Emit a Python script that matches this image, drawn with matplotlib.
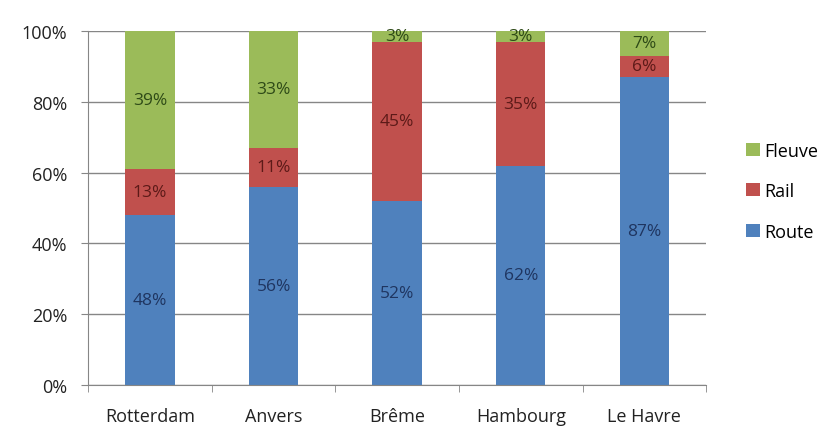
import matplotlib
matplotlib.use("Agg")
import matplotlib.pyplot as plt
import numpy as np
from matplotlib.ticker import PercentFormatter

categories = ["Rotterdam", "Anvers", "Brême", "Hambourg", "Le Havre"]
route = [48, 56, 52, 62, 87]
rail = [13, 11, 45, 35, 6]
fleuve = [39, 33, 3, 3, 7]
series_names = ["Route", "Rail", "Fleuve"]
colors = ["#4F81BD", "#C0504D", "#9BBB59"]
text_colors = ["#1F3560", "#5C1A18", "#2E4A17"]

plt.rcParams['font.family'] = ['Open Sans', 'DejaVu Sans']

fig = plt.figure(figsize=(8.24, 4.27), dpi=100)
ax = fig.add_axes([0.107, 0.096, 0.75, 0.829])

x = np.arange(len(categories))
bottom = np.zeros(len(categories))
handles = []
for vals, name, c, tc in zip([route, rail, fleuve], series_names, colors, text_colors):
    v = np.array(vals, dtype=float)
    b = ax.bar(x, v, 0.4, bottom=bottom, color=c, label=name, zorder=3)
    handles.append(b)
    for xi, bi, vi in zip(x, bottom, v):
        ax.text(xi, bi + vi / 2, f"{int(vi)}%", ha="center", va="center",
                fontsize=12.5, color=tc, zorder=4)
    bottom += v

ax.set_xlim(-0.5, len(categories) - 0.5)
ax.set_ylim(0, 100)
ax.set_yticks(np.arange(0, 101, 20))
ax.yaxis.set_major_formatter(PercentFormatter(decimals=0))
ax.set_xticks(x)
ax.set_xticklabels(categories)
ax.set_xticks(np.arange(-0.5, len(categories), 1), minor=True)
ax.tick_params(axis="x", which="major", length=0, pad=16, labelsize=13, labelcolor="#222222")
ax.tick_params(axis="x", which="minor", length=5, color="#868686", direction="out")
ax.tick_params(axis="y", length=5, color="#868686", labelsize=13, labelcolor="#222222", pad=10)
ax.grid(axis="y", color="#868686", linewidth=1, zorder=0)
for s in ["top", "right"]:
    ax.spines[s].set_visible(False)
for s in ["left", "bottom"]:
    ax.spines[s].set_color("#868686")
    ax.spines[s].set_zorder(5)

leg = fig.legend(handles[::-1], series_names[::-1], loc="center left",
                 bbox_to_anchor=(0.886, 0.55), frameon=False, fontsize=13,
                 handlelength=0.75, handleheight=0.75, handletextpad=0.25,
                 labelspacing=1.25)

fig.savefig("out.png", dpi=100)
